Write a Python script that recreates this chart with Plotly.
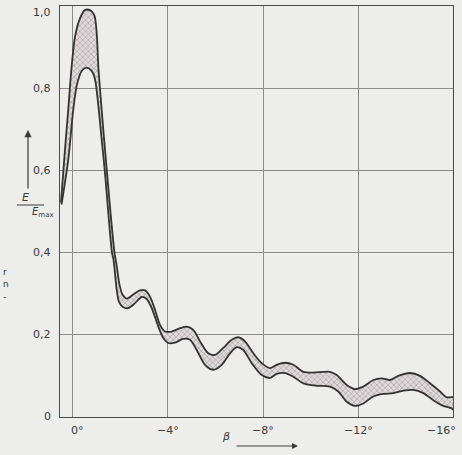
import plotly.graph_objects as go

# Upper boundary of the band (beta in degrees, E/Emax)
upper_beta = [0.505, 0.337, 0.198, 0.055, -0.084, -0.295, -0.505, -0.716, -0.897, -0.998,
              -1.065, -1.137, -1.284, -1.432, -1.579, -1.747, -1.832, -1.958, -2.084, -2.274,
              -2.539, -2.821, -3.032, -3.242, -3.453, -3.663, -3.874, -4.156, -4.505, -4.787,
              -5.065, -5.347, -5.697, -5.979, -6.328, -6.682, -6.960, -7.242, -7.592, -7.945,
              -8.295, -8.577, -8.926, -9.276, -9.697, -10.118, -10.821, -11.103, -11.524, -11.874,
              -12.223, -12.644, -12.998, -13.347, -13.697, -14.189, -14.611, -15.032, -15.453, -15.735,
              -16.0]
upper_val = [0.522, 0.651, 0.749, 0.854, 0.925, 0.970, 0.990, 0.990, 0.978, 0.935,
             0.854, 0.798, 0.693, 0.595, 0.498, 0.400, 0.371, 0.322, 0.298, 0.288,
             0.298, 0.308, 0.308, 0.293, 0.261, 0.224, 0.208, 0.208, 0.216, 0.220,
             0.212, 0.184, 0.155, 0.151, 0.168, 0.188, 0.194, 0.184, 0.155, 0.131,
             0.119, 0.127, 0.132, 0.127, 0.110, 0.108, 0.110, 0.102, 0.078, 0.068,
             0.074, 0.090, 0.094, 0.090, 0.100, 0.107, 0.100, 0.082, 0.062, 0.048,
             0.049]

# Lower boundary of the band
lower_beta = [0.484, 0.198, -0.013, -0.156, -0.366, -0.577, -0.787, -0.926, -1.040, -1.179,
              -1.347, -1.486, -1.642, -1.705, -1.840, -1.937, -2.118, -2.328, -2.611, -2.893,
              -3.103, -3.314, -3.592, -3.802, -4.013, -4.295, -4.644, -4.926, -5.208, -5.558,
              -5.907, -6.261, -6.611, -6.893, -7.171, -7.524, -7.945, -8.295, -8.577, -8.926,
              -9.276, -9.697, -10.261, -10.821, -11.171, -11.524, -11.874, -12.223, -12.644, -13.065,
              -13.486, -13.907, -14.328, -14.749, -15.171, -15.592, -15.945, -16.0]
lower_val = [0.517, 0.627, 0.749, 0.806, 0.842, 0.850, 0.842, 0.822, 0.773, 0.692,
             0.594, 0.497, 0.400, 0.383, 0.310, 0.280, 0.267, 0.265, 0.277, 0.292,
             0.287, 0.265, 0.220, 0.192, 0.180, 0.181, 0.190, 0.188, 0.163, 0.127,
             0.115, 0.127, 0.155, 0.170, 0.163, 0.131, 0.102, 0.095, 0.105, 0.107,
             0.098, 0.082, 0.076, 0.074, 0.062, 0.037, 0.027, 0.033, 0.050, 0.056,
             0.058, 0.064, 0.066, 0.058, 0.041, 0.027, 0.021, 0.017]

x_ticks = [0, -4, -8, -12, -16]
x_tick_text = ["0°", "−4°", "−8°", "−12°", "−16°"]
y_ticks = [0, 0.2, 0.4, 0.6, 0.8, 1.0]
y_tick_text = ["0", "0,2", "0,4", "0,6", "0,8", "1,0"]

BG = "#ededeb"
INK = "#3a3a3a"
FONT = "DejaVu Sans"

fig = go.Figure()

# hatched band
fig.add_trace(go.Scatter(
    x=upper_beta + lower_beta[::-1],
    y=upper_val + lower_val[::-1],
    mode="lines", fill="toself",
    line=dict(width=0, shape="spline", smoothing=0.8),
    fillcolor="rgba(215,208,211,1)",
    fillpattern=dict(shape="x", fgcolor="#7d777a", bgcolor="#e0dadc", size=4, solidity=0.35),
    hoverinfo="skip", showlegend=False))

for xs, ys in [(upper_beta, upper_val), (lower_beta, lower_val)]:
    fig.add_trace(go.Scatter(
        x=xs, y=ys, mode="lines",
        line=dict(color="#333333", width=1.8, shape="spline", smoothing=0.8),
        showlegend=False))

fig.update_layout(
    width=462, height=455, autosize=False,
    margin=dict(l=60, r=9, t=6, b=38),
    paper_bgcolor=BG, plot_bgcolor=BG,
    font=dict(family=FONT, size=11, color=INK),
    xaxis=dict(range=[0.547, -16], tickvals=x_ticks, showticklabels=False,
               showgrid=True, gridcolor="#8a8a8a", gridwidth=1,
               showline=True, linecolor="#4a4a4a", linewidth=1.2, mirror=True,
               zeroline=False, ticks=""),
    yaxis=dict(range=[0, 1.0], tickvals=y_ticks, showticklabels=False,
               showgrid=True, gridcolor="#8a8a8a", gridwidth=1,
               showline=True, linecolor="#4a4a4a", linewidth=1.2, mirror=True,
               zeroline=False, ticks=""),
)

# x tick labels (shifted like the printed original)
xshifts = [5, 0, 0, 0, -12]
for v, t, s in zip(x_ticks, x_tick_text, xshifts):
    fig.add_annotation(x=v, y=0, xref="x", yref="paper", text=t, showarrow=False,
                       yanchor="top", yshift=-5, xshift=s,
                       font=dict(family=FONT, size=11, color=INK))

# y tick labels
yshifts = [1, 0, 0, 0, 0, -6]
for v, t, s in zip(y_ticks, y_tick_text, yshifts):
    fig.add_annotation(x=0, y=v, xref="paper", yref="y", text=t, showarrow=False,
                       xanchor="right", xshift=-7, yshift=s,
                       font=dict(family=FONT, size=11, color=INK))

W, H = 393.0, 411.0  # plot area size in px
def px(xp):
    return (xp - 60) / W
def py(yp):
    return (417 - yp) / H

# y axis label: arrow and fraction E / Emax
fig.add_annotation(x=px(28), y=py(130), xref="paper", yref="paper", text="",
                   showarrow=True, ax=0, ay=60, arrowhead=2, arrowsize=1.2,
                   arrowwidth=1.2, arrowcolor=INK)
fig.add_annotation(x=px(20), y=py(197), xref="paper", yref="paper",
                   text="<i>E</i>", showarrow=False,
                   font=dict(family=FONT, size=11, color=INK))
fig.add_shape(type="line", xref="paper", yref="paper",
              x0=px(17), x1=px(44), y0=py(205), y1=py(205),
              line=dict(color=INK, width=1))
fig.add_annotation(x=px(30), y=py(213), xref="paper", yref="paper",
                   text="<i>E</i><sub>max</sub>", showarrow=False,
                   font=dict(family=FONT, size=10, color=INK))

# x axis label: beta with arrow
fig.add_annotation(x=px(226), y=py(445), xref="paper", yref="paper",
                   text="<i>β</i>", showarrow=False,
                   font=dict(family=FONT, size=11, color=INK))
fig.add_annotation(x=px(298), y=py(446), xref="paper", yref="paper", text="",
                   showarrow=True, ax=-63, ay=0, arrowhead=2, arrowsize=1.2,
                   arrowwidth=1, arrowcolor=INK)

# text fragments from the neighbouring page column
fig.add_annotation(x=px(1), y=py(278), xref="paper", yref="paper", text="r<br>n",
                   xanchor="left", align="left", showarrow=False,
                   font=dict(family=FONT, size=9, color=INK))
fig.add_annotation(x=px(1), y=py(304), xref="paper", yref="paper", text="-",
                   xanchor="left", showarrow=False,
                   font=dict(family=FONT, size=9, color=INK))

fig.write_html("out.html",
               config={"displayModeBar": False},
               post_script="document.body.style.margin='0px';document.body.style.overflow='hidden';")
